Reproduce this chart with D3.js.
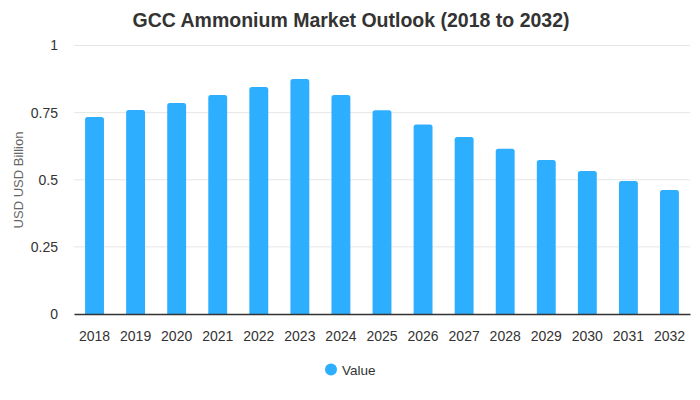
<!DOCTYPE html>
<html><head><meta charset="utf-8">
<script src="https://cdn.jsdelivr.net/npm/d3@7"></script>
<style>body{margin:0;background:#fff;font-family:"Liberation Sans",Arial,sans-serif;}</style>
</head><body><svg id="c" width="700" height="400"></svg>
<script>
const categories = ["2018","2019","2020","2021","2022","2023","2024","2025","2026","2027","2028","2029","2030","2031","2032"];
const values = [0.734,0.760,0.786,0.816,0.845,0.875,0.816,0.759,0.706,0.659,0.615,0.574,0.533,0.495,0.462];
const yTicks = [0,0.25,0.5,0.75,1];
const seriesName = "Value";
const title = "GCC Ammonium Market Outlook (2018 to 2032)";
const yTitle = "USD USD Billion";

const svg = d3.select("#c");
const m = {l:74, r:10, t:46, b:86};
const W = 700, H = 400;
const x = d3.scaleBand().domain(categories).range([m.l, W - m.r]).paddingInner(0.54).paddingOuter(0.27);
const y = d3.scaleLinear().domain([0,1]).range([314, 45.5]);
const color = "#2eaeff";

svg.append("text").attr("x", 351).attr("y", 27).attr("text-anchor","middle")
  .attr("font-size", 19.5).attr("font-weight","bold").attr("fill","#333").text(title);

const grid = svg.append("g");
grid.selectAll("line").data(yTicks.filter(d=>d>0)).join("line")
  .attr("x1", m.l).attr("x2", W - m.r).attr("y1", d=>y(d)).attr("y2", d=>y(d))
  .attr("stroke","#e6e6e6").attr("stroke-width",1);

const yAxis = svg.append("g").attr("transform",`translate(${m.l},0)`)
  .call(d3.axisLeft(y).tickValues(yTicks).tickSize(0).tickPadding(16).tickFormat(d=>String(d)));
yAxis.select(".domain").remove();
yAxis.selectAll("text").attr("font-size",14).attr("fill","#333").attr("font-family","Liberation Sans, Arial, sans-serif");

const r = 2.5;
svg.append("g").selectAll("path").data(values).join("path")
  .attr("fill", color)
  .attr("d", (d,i) => {
    const x0 = x(categories[i]), w = x.bandwidth(), y0 = y(d), yb = y(0);
    return `M${x0},${yb}V${y0+r}Q${x0},${y0} ${x0+r},${y0}H${x0+w-r}Q${x0+w},${y0} ${x0+w},${y0+r}V${yb}Z`;
  });

const xAxis = svg.append("g").attr("transform",`translate(0,${y(0)})`)
  .call(d3.axisBottom(x).tickSize(0).tickPadding(17));
xAxis.select(".domain").attr("stroke","#333").attr("stroke-width",1.5);
xAxis.selectAll("text").attr("font-size",14).attr("fill","#333").attr("font-family","Liberation Sans, Arial, sans-serif");

svg.append("text").attr("transform","translate(23,180) rotate(-90)").attr("text-anchor","middle")
  .attr("font-size",13).attr("fill","#666").text(yTitle);

const lg = svg.append("g");
lg.append("circle").attr("cx",331).attr("cy",369.5).attr("r",6).attr("fill",color);
lg.append("text").attr("x",342).attr("y",374.5).attr("font-size",13.5).attr("fill","#333").text(seriesName);
</script></body></html>
